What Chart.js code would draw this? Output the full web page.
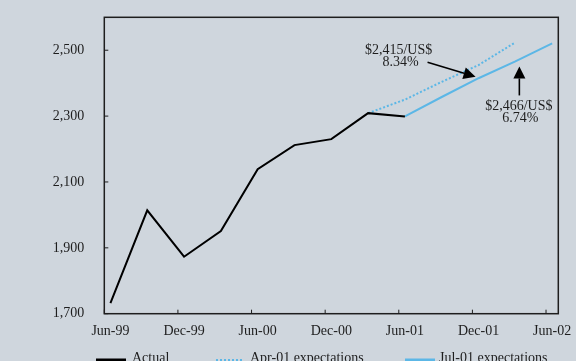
<!DOCTYPE html>
<html>
<head>
<meta charset="utf-8">
<script src="https://cdn.jsdelivr.net/npm/chart.js@4.4.1/dist/chart.umd.min.js"></script>
<style>
  html, body { margin: 0; padding: 0; background: #cfd6dd; }
  canvas { display: block; }
</style>
</head>
<body>
<canvas id="myChart" width="576" height="361"></canvas>
<script>
// quarterly readings, peso per US dollar
const actualQuarters = ['Jun-99', 'Sep-99', 'Dec-99', 'Mar-00', 'Jun-00', 'Sep-00', 'Dec-00', 'Mar-01', 'Jun-01'];
const actual = [1732, 2014, 1873, 1951, 2139, 2212, 2230, 2309, 2299];

const aprQuarters = ['Mar-01', 'Jun-01', 'Sep-01', 'Dec-01', 'Mar-02'];
const apr01 = [2309, 2350, 2404, 2455, 2524];

const julQuarters = ['Jun-01', 'Sep-01', 'Dec-01', 'Mar-02', 'Jun-02'];
const jul01 = [2299, 2358, 2415, 2466, 2521];

const xTickLabels = ['Jun-99', 'Dec-99', 'Jun-00', 'Dec-00', 'Jun-01', 'Dec-01', 'Jun-02'];
const yTicks = [1700, 1900, 2100, 2300, 2500];

// monthly categories Jun-99 .. Jun-02
const monthNames = ['Jan', 'Feb', 'Mar', 'Apr', 'May', 'Jun', 'Jul', 'Aug', 'Sep', 'Oct', 'Nov', 'Dec'];
const months = [];
for (let m = 5; m <= 5 + 36; m++) {
  const yr = 99 + Math.floor(m / 12);
  months.push(monthNames[m % 12] + '-' + String(yr % 100).padStart(2, '0'));
}

const pairs = (cats, vals) => cats.map((c, i) => ({ x: c, y: vals[i] }));

const FONT = '"Liberation Serif", "Times New Roman", serif';
const INK = '#1e1e1e';
const BLUE = '#5cb7e6';

function arrow(ctx, x0, y0, x1, y1) {
  const ang = Math.atan2(y1 - y0, x1 - x0);
  const len = 12, hw = 6;
  const bx = x1 - len * Math.cos(ang), by = y1 - len * Math.sin(ang);
  ctx.beginPath();
  ctx.moveTo(x0, y0);
  ctx.lineTo(bx, by);
  ctx.lineWidth = 1.6;
  ctx.strokeStyle = '#000';
  ctx.stroke();
  ctx.beginPath();
  ctx.moveTo(x1, y1);
  ctx.lineTo(bx + hw * Math.sin(ang), by - hw * Math.cos(ang));
  ctx.lineTo(bx - hw * Math.sin(ang), by + hw * Math.cos(ang));
  ctx.closePath();
  ctx.fillStyle = '#000';
  ctx.fill();
}

const frame = {
  id: 'frame',
  afterDatasetsDraw(chart) {
    const { ctx, chartArea: a, scales: { x, y } } = chart;
    const half = (a.right - a.left) / months.length / 2;
    ctx.save();
    ctx.strokeStyle = INK;
    ctx.lineWidth = 1.5;
    ctx.strokeRect(a.left, a.top, a.right - a.left, a.bottom - a.top);

    // inward tick marks
    ctx.lineWidth = 1;
    ctx.beginPath();
    xTickLabels.forEach(l => {
      const px = x.getPixelForValue(months.indexOf(l)) - half;
      ctx.moveTo(px, a.bottom);
      ctx.lineTo(px, a.bottom - 4);
    });
    yTicks.forEach(v => {
      const py = y.getPixelForValue(v);
      ctx.moveTo(a.left, py);
      ctx.lineTo(a.left + 4, py);
    });
    ctx.stroke();

    // annotations on the Jul-01 path
    const p1x = x.getPixelForValue(months.indexOf(julQuarters[2]));
    const p1y = y.getPixelForValue(jul01[2]);
    arrow(ctx, p1x - 51, p1y - 16, p1x - 3, p1y - 1.5);
    const p2x = x.getPixelForValue(months.indexOf(julQuarters[3]));
    const p2y = y.getPixelForValue(jul01[3]);
    arrow(ctx, p2x + 4, p2y + 34, p2x + 4, p2y + 5);

    ctx.fillStyle = INK;
    ctx.font = '14px ' + FONT;
    ctx.textAlign = 'center';
    ctx.textBaseline = 'middle';
    ctx.fillText('$2,415/US$', p1x - 80, p1y - 28);
    ctx.fillText('8.34%', p1x - 78, p1y - 15.5);
    ctx.fillText('$2,466/US$', p2x + 3.5, p2y + 45);
    ctx.fillText('6.74%', p2x + 5, p2y + 56.5);

    // legend
    ctx.textAlign = 'left';
    ctx.textBaseline = 'alphabetic';
    const ly = 360;
    const items = [
      { label: 'Actual', x0: 96, x1: 126, tx: 132, color: '#000', dash: [], w: 3 },
      { label: 'Apr-01 expectations', x0: 216, x1: 243, tx: 250, color: BLUE, dash: [2, 2], w: 2 },
      { label: 'Jul-01 expectations', x0: 405, x1: 435, tx: 439, color: BLUE, dash: [], w: 3 }
    ];
    items.forEach(it => {
      ctx.beginPath();
      ctx.setLineDash(it.dash);
      ctx.strokeStyle = it.color;
      ctx.lineWidth = it.w;
      ctx.moveTo(it.x0, ly);
      ctx.lineTo(it.x1, ly);
      ctx.stroke();
      ctx.setLineDash([]);
      ctx.fillText(it.label, it.tx, 362);
    });
    ctx.restore();
  }
};

function noEdgePadding(s) {
  s.paddingTop = 0;
  s.paddingBottom = 0;
  s.paddingLeft = 0;
  s.paddingRight = 0;
}

const ctx = document.getElementById('myChart').getContext('2d');
const myChart = new Chart(ctx, {
  type: 'line',
  data: {
    labels: months,
    datasets: [
      { label: 'Actual', data: pairs(actualQuarters, actual), borderColor: '#000', borderWidth: 2 },
      { label: 'Apr-01 expectations', data: pairs(aprQuarters, apr01), borderColor: BLUE, borderWidth: 2, borderDash: [2, 2] },
      { label: 'Jul-01 expectations', data: pairs(julQuarters, jul01), borderColor: BLUE, borderWidth: 2 }
    ]
  },
  options: {
    responsive: false,
    animation: false,
    layout: { padding: { left: 0, right: 17.7, top: 17.3, bottom: 0 } },
    elements: { point: { radius: 0 }, line: { tension: 0 } },
    plugins: { legend: { display: false }, tooltip: { enabled: false } },
    scales: {
      x: {
        type: 'category',
        offset: true,
        grid: { display: false, drawTicks: false },
        border: { display: false },
        afterFit: s => { s.height = 47.3; noEdgePadding(s); },
        ticks: {
          autoSkip: false,
          maxRotation: 0,
          minRotation: 0,
          padding: 9,
          color: INK,
          font: { family: FONT, size: 14 },
          callback: function (v) {
            const l = this.getLabelForValue(v);
            return xTickLabels.includes(l) ? l : null;
          }
        }
      },
      y: {
        min: 1700,
        max: 2600,
        grid: { display: false, drawTicks: false },
        border: { display: false },
        afterFit: s => { s.width = 104.3; noEdgePadding(s); },
        afterBuildTicks: s => { s.ticks = yTicks.map(v => ({ value: v })); },
        ticks: {
          padding: 20,
          color: INK,
          font: { family: FONT, size: 14 },
          callback: v => v.toLocaleString('en-US')
        }
      }
    }
  },
  plugins: [frame]
});
</script>
</body>
</html>
